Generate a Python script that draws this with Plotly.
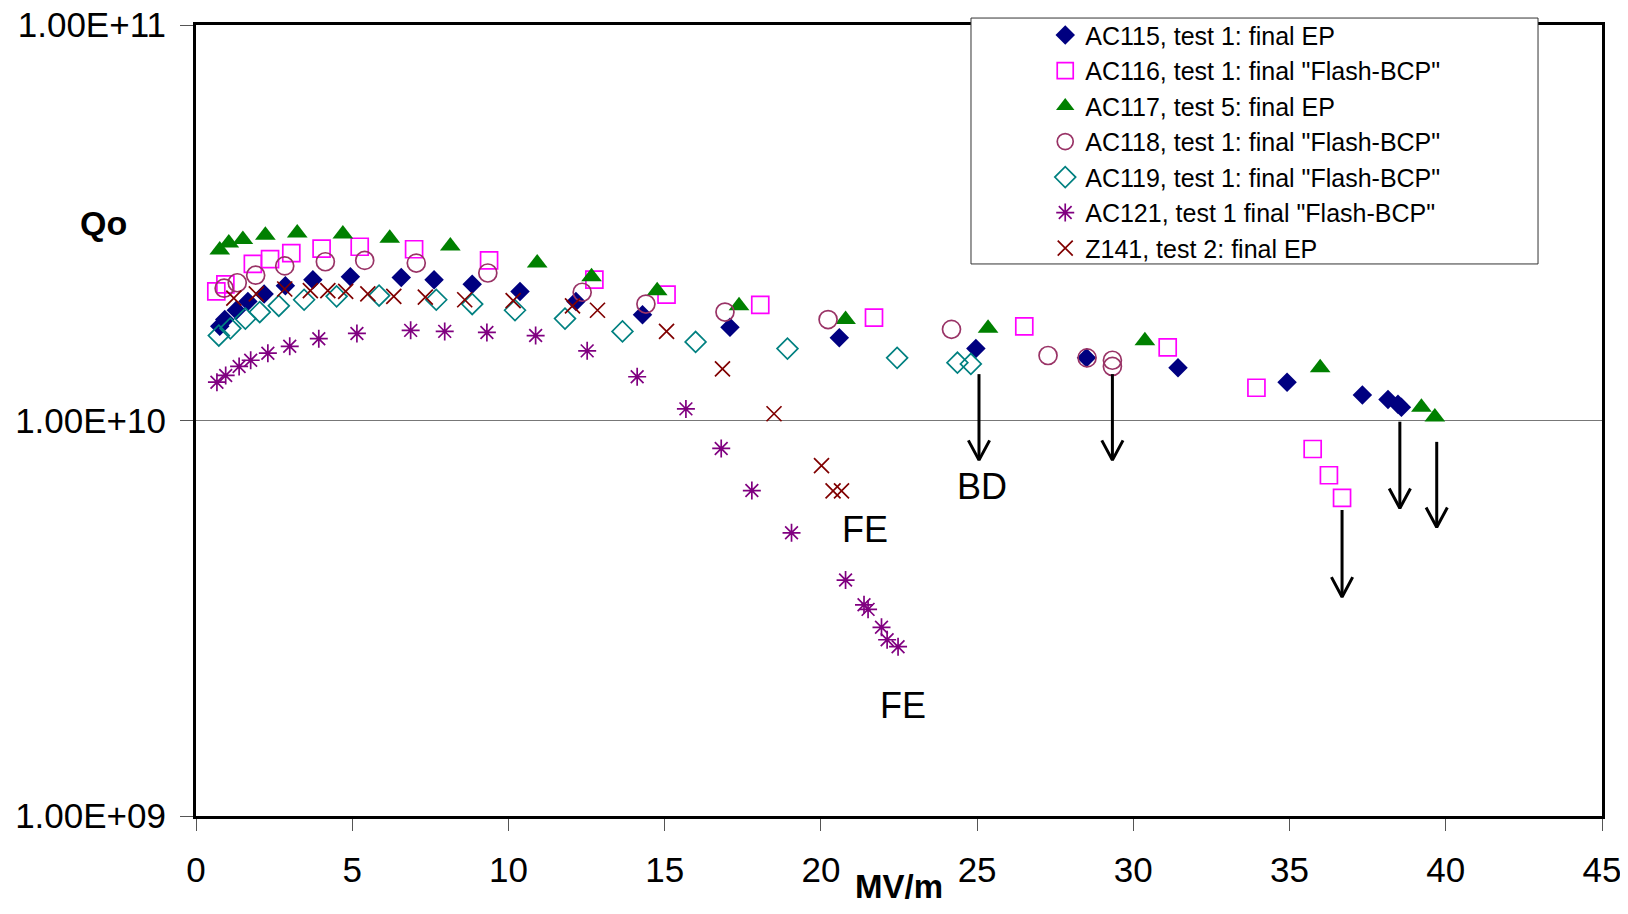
import math
import plotly.graph_objects as go

# ---------------- data ----------------
ac115_x = [0.76, 0.92, 1.29, 1.66, 2.18, 2.86, 3.74, 4.94, 6.57, 7.62, 8.84, 10.37, 12.16, 14.29,
           17.09, 20.59, 24.96, 28.5, 31.43, 34.92, 37.33, 38.15, 38.47, 38.58]
ac115_q = [1.73e10, 1.80e10, 1.90e10, 2.00e10, 2.09e10, 2.19e10, 2.27e10, 2.31e10, 2.30e10, 2.27e10,
           2.21e10, 2.12e10, 2.00e10, 1.85e10, 1.72e10, 1.62e10, 1.52e10, 1.44e10, 1.36e10, 1.25e10,
           1.16e10, 1.13e10, 1.10e10, 1.08e10]

ac116_x = [0.65, 0.94, 1.82, 2.37, 3.05, 4.02, 5.24, 6.98, 9.38, 12.75, 15.06, 18.06, 21.70, 26.51,
           31.1, 33.94, 35.74, 36.26, 36.68]
ac116_q = [2.12e10, 2.21e10, 2.49e10, 2.56e10, 2.65e10, 2.72e10, 2.75e10, 2.71e10, 2.54e10, 2.27e10,
           2.08e10, 1.96e10, 1.82e10, 1.73e10, 1.53e10, 1.21e10, 8.47e9, 7.27e9, 6.37e9]

ac117_x = [0.76, 1.05, 1.50, 2.22, 3.24, 4.70, 6.20, 8.14, 10.92, 12.66, 14.76, 17.38, 20.79, 25.35,
           30.37, 35.98, 39.22, 39.65]
ac117_q = [2.70e10, 2.81e10, 2.87e10, 2.94e10, 2.98e10, 2.96e10, 2.89e10, 2.76e10, 2.50e10, 2.31e10,
           2.13e10, 1.95e10, 1.80e10, 1.71e10, 1.59e10, 1.36e10, 1.08e10, 1.02e10]

ac118_x = [0.90, 1.32, 1.91, 2.84, 4.14, 5.40, 7.05, 9.34, 12.36, 14.4, 16.93, 20.23, 24.18, 27.27,
           28.52, 29.33, 29.33]
ac118_q = [2.16e10, 2.23e10, 2.33e10, 2.46e10, 2.52e10, 2.54e10, 2.50e10, 2.36e10, 2.11e10, 1.97e10,
           1.88e10, 1.80e10, 1.70e10, 1.46e10, 1.44e10, 1.42e10, 1.37e10]

ac119_x = [0.73, 1.10, 1.58, 2.04, 2.65, 3.46, 4.50, 5.86, 7.69, 8.84, 10.21, 11.81, 13.65, 15.99,
           18.93, 22.44, 24.37, 24.8]
ac119_q = [1.64e10, 1.71e10, 1.81e10, 1.88e10, 1.95e10, 2.02e10, 2.06e10, 2.07e10, 2.02e10, 1.97e10,
           1.90e10, 1.81e10, 1.68e10, 1.58e10, 1.52e10, 1.44e10, 1.40e10, 1.39e10]

ac121_x = [0.67, 0.95, 1.38, 1.75, 2.30, 3.0, 3.93, 5.15, 6.87, 7.96, 9.31, 10.87, 12.52, 14.12,
           15.68, 16.81, 17.79, 19.06, 20.79, 21.38, 21.51, 21.94, 22.12, 22.47]
ac121_q = [1.25e10, 1.30e10, 1.37e10, 1.42e10, 1.48e10, 1.54e10, 1.61e10, 1.66e10, 1.69e10, 1.68e10,
           1.67e10, 1.64e10, 1.50e10, 1.29e10, 1.07e10, 8.5e9, 6.65e9, 5.2e9, 3.95e9, 3.42e9,
           3.33e9, 3.0e9, 2.79e9, 2.68e9]

z141_x = [1.21, 1.93, 2.84, 3.66, 4.22, 4.79, 5.50, 6.33, 7.34, 8.60, 10.15, 12.05, 12.85, 15.06,
          16.85, 18.5, 20.02, 20.39, 20.66]
z141_q = [2.04e10, 2.09e10, 2.15e10, 2.13e10, 2.13e10, 2.12e10, 2.09e10, 2.06e10, 2.05e10, 2.02e10,
          2.01e10, 1.95e10, 1.90e10, 1.68e10, 1.35e10, 1.04e10, 7.69e9, 6.64e9, 6.64e9]

series_names = [
    'AC115, test 1: final EP',
    'AC116, test 1: final "Flash-BCP"',
    'AC117, test 5: final EP',
    'AC118, test 1: final "Flash-BCP"',
    'AC119, test 1: final "Flash-BCP"',
    'AC121, test 1 final "Flash-BCP"',
    'Z141, test 2: final EP',
]

# arrows (quench / limit markers)
arrow_x = [25.06, 29.33, 38.53, 39.71, 36.68]
arrow_q_start = [1.31e10, 1.31e10, 9.93e9, 8.83e9, 5.94e9]
arrow_q_end = [7.94e9, 7.94e9, 6.0e9, 5.37e9, 3.58e9]

# text labels
label_text = ["BD", "FE", "FE"]
label_x = [25.15, 21.41, 22.62]
label_q = [6.8e9, 5.3e9, 1.9e9]

y_tick_vals = [1e9, 1e10, 1e11]
y_tick_text = ["1.00E+09", "1.00E+10", "1.00E+11"]
x_tick_vals = [0, 5, 10, 15, 20, 25, 30, 35, 40, 45]

FONT = "Liberation Sans, Arial, Helvetica, sans-serif"

fig = go.Figure()

styles = [
    dict(symbol="diamond", size=15, color="#000080", line=dict(width=0)),
    dict(symbol="square-open", size=17, color="#FF00FF", line=dict(width=1.7)),
    dict(symbol="triangle-up", size=18, color="#008000", line=dict(width=0)),
    dict(symbol="circle-open", size=18, color="#993366", line=dict(width=1.7)),
    dict(symbol="diamond-open", size=16, color="#008080", line=dict(width=1.7)),
    dict(symbol="asterisk-open", size=15, color="#800080", line=dict(width=1.7)),
    dict(symbol="x-thin-open", size=15, color="#800000", line=dict(width=1.7)),
]
xs = [ac115_x, ac116_x, ac117_x, ac118_x, ac119_x, ac121_x, z141_x]
qs = [ac115_q, ac116_q, ac117_q, ac118_q, ac119_q, ac121_q, z141_q]

for name, x, q, st in zip(series_names, xs, qs, styles):
    st = dict(st)
    line = dict(st.pop("line"))
    line["color"] = st["color"]
    fig.add_trace(go.Scatter(x=x, y=q, mode="markers", name=name,
                             marker=dict(**st, line=line)))

# arrows drawn as line traces (shaft + open V head)
dx = 0.34
dlog = 0.05
ax_, ay_ = [], []
for x, q0, q1 in zip(arrow_x, arrow_q_start, arrow_q_end):
    ax_ += [x, x, None, x - dx, x, x + dx, None]
    ay_ += [q0, q1, None, q1 * 10 ** dlog, q1, q1 * 10 ** dlog, None]
fig.add_trace(go.Scatter(x=ax_, y=ay_, mode="lines", showlegend=False, hoverinfo="skip",
                         line=dict(color="black", width=3)))

annotations = []
for t, x, q in zip(label_text, label_x, label_q):
    annotations.append(dict(text=t, x=x, y=math.log10(q), xref="x", yref="y", showarrow=False,
                            xanchor="center", yanchor="middle",
                            font=dict(size=36, color="black", family=FONT)))
annotations.append(dict(text="<b>Qo</b>", x=-0.066, y=0.75, xref="paper", yref="paper",
                        xanchor="center", yanchor="middle",
                        showarrow=False, font=dict(size=34, color="black", family=FONT)))
annotations.append(dict(text="<b>MV/m</b>", x=0.5, y=-0.089, xref="paper", yref="paper",
                        showarrow=False, xanchor="center", yanchor="middle",
                        font=dict(size=33, color="black", family=FONT)))

# figure sized to the viewport minus the page's default 8px body margin
fig.update_layout(
    width=1612, height=898,
    margin=dict(l=188, r=18, t=17, b=90, autoexpand=False),
    paper_bgcolor="white", plot_bgcolor="white",
    font=dict(family=FONT, color="black", size=34),
    annotations=annotations,
    shapes=[dict(type="rect", xref="paper", yref="paper", x0=0.5512, x1=0.9545, y0=0.6979, y1=1.0088,
                 line=dict(color="#333333", width=1), fillcolor="white", layer="above")],
    legend=dict(x=0.604, y=1.016, xanchor="left", yanchor="top", bgcolor="rgba(0,0,0,0)",
                borderwidth=0, font=dict(size=25, family=FONT, color="black"),
                itemsizing="trace"),
    xaxis=dict(range=[0, 45], tickvals=x_tick_vals, showgrid=False, zeroline=False,
               showline=True, mirror=True, linecolor="black", linewidth=3,
               ticks="outside", ticklen=12, tickwidth=1, tickcolor="#555555",
               tickfont=dict(size=35), ticklabelstandoff=9, ticklabeloverflow="allow",
               automargin=False),
    yaxis=dict(type="log", range=[9, 11], tickvals=y_tick_vals, ticktext=y_tick_text,
               showgrid=True, gridcolor="#777777", gridwidth=1, zeroline=False,
               showline=True, mirror=True, linecolor="black", linewidth=3,
               ticks="outside", ticklen=13, tickwidth=1, tickcolor="#555555",
               tickfont=dict(size=35), ticklabelstandoff=7, ticklabeloverflow="allow",
               automargin=False),
)

fig.write_html("out.html")
